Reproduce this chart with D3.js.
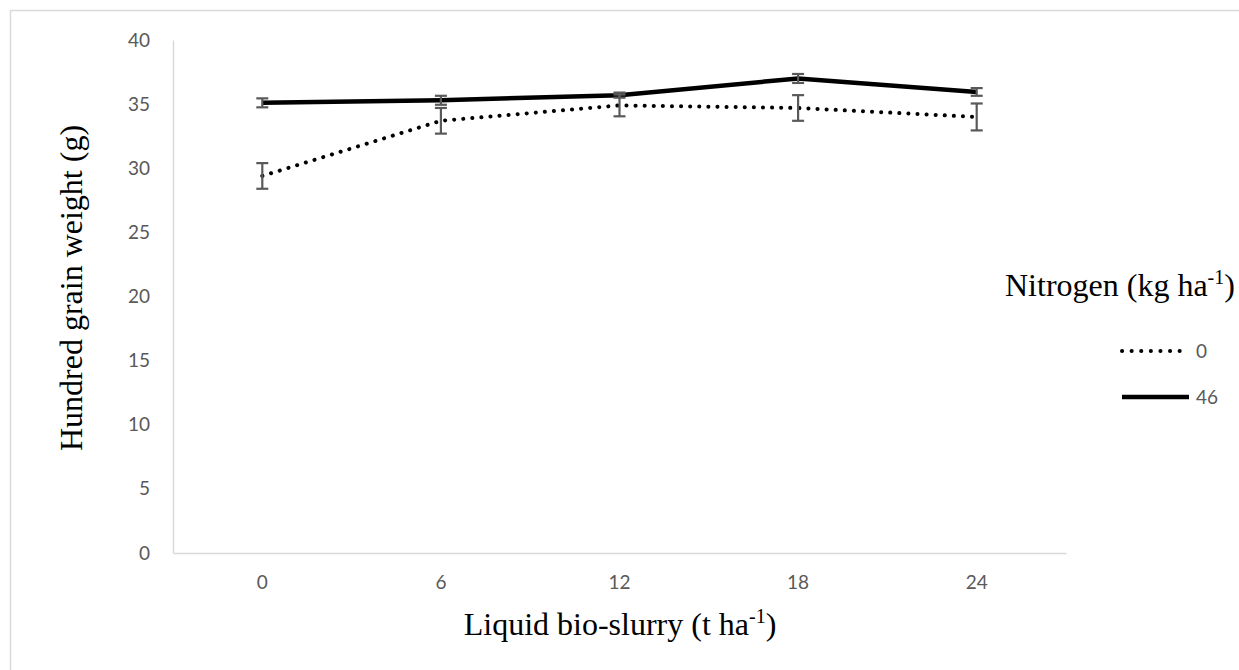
<!DOCTYPE html>
<html>
<head>
<meta charset="utf-8">
<script src="https://cdn.jsdelivr.net/npm/d3@7"></script>
<style>
  body { margin: 0; background: #fff; }
  svg { display: block; }
  .tick-font { font-family: Lato, "Open Sans", sans-serif; }
  .title-font { font-family: "Times New Roman", Times, "Liberation Serif", serif; }
</style>
</head>
<body>
<div id="chart"></div>
<script>
// data
const slurry = ["0", "6", "12", "18", "24"];
const n0 = [29.4, 33.7, 34.9, 34.7, 34.0];
const n0Err = [1.0, 1.0, 0.85, 1.0, 1.05];
const n46 = [35.1, 35.3, 35.7, 37.0, 35.95];
const n46Err = [0.35, 0.35, 0.2, 0.35, 0.3];
const yTicks = [0, 5, 10, 15, 20, 25, 30, 35, 40];
const seriesNames = ["0", "46"];

const W = 1239, H = 670;
const plot = { left: 173, right: 1066, top: 40, bottom: 553 };

const svg = d3.select("#chart").append("svg")
    .attr("width", W)
    .attr("height", H);

// outer frame
svg.append("rect")
    .attr("x", 10.5).attr("y", 10.5)
    .attr("width", W).attr("height", H)
    .attr("fill", "none")
    .attr("stroke", "#d9d9d9")
    .attr("stroke-width", 1.5);

const x = d3.scaleBand().domain(slurry).range([plot.left, plot.right]);
const y = d3.scaleLinear().domain([0, 40]).range([plot.bottom, plot.top]);
const cx = d => x(d) + x.bandwidth() / 2;

// y axis
const yAxis = svg.append("g")
    .attr("transform", `translate(${plot.left},0)`)
    .call(d3.axisLeft(y).tickValues(yTicks).tickSize(0).tickPadding(23));
yAxis.select(".domain").attr("stroke", "#d9d9d9").attr("stroke-width", 1.5);
yAxis.selectAll("text").attr("class", "tick-font")
    .attr("font-size", 19).attr("fill", "#595959");

// x axis
const xAxis = svg.append("g")
    .attr("transform", `translate(0,${plot.bottom})`)
    .call(d3.axisBottom(x).tickSize(0).tickPadding(23));
xAxis.select(".domain").attr("stroke", "#d9d9d9").attr("stroke-width", 1.5);
xAxis.selectAll("text").attr("class", "tick-font")
    .attr("font-size", 19).attr("fill", "#595959");
svg.selectAll("g").attr("font-family", null);

// lines
const line = d3.line().x((d, i) => cx(slurry[i])).y(d => y(d));

svg.append("path")
    .datum(n0)
    .attr("d", line)
    .attr("fill", "none")
    .attr("stroke", "#000")
    .attr("stroke-width", 4)
    .attr("stroke-linecap", "round")
    .attr("stroke-dasharray", "0.1 9");

svg.append("path")
    .datum(n46)
    .attr("d", line)
    .attr("fill", "none")
    .attr("stroke", "#000")
    .attr("stroke-width", 4.5);

// error bars
function errorBars(vals, errs) {
    const g = svg.append("g").attr("stroke", "#595959").attr("stroke-width", 2.2);
    vals.forEach((v, i) => {
        const px = cx(slurry[i]);
        const y1 = y(v + errs[i]), y2 = y(v - errs[i]);
        g.append("line").attr("x1", px).attr("x2", px).attr("y1", y1).attr("y2", y2);
        g.append("line").attr("x1", px - 6).attr("x2", px + 6).attr("y1", y1).attr("y2", y1);
        g.append("line").attr("x1", px - 6).attr("x2", px + 6).attr("y1", y2).attr("y2", y2);
    });
}
errorBars(n0, n0Err);
errorBars(n46, n46Err);

// axis titles
const xt = svg.append("text")
    .attr("class", "title-font")
    .attr("x", 620)
    .attr("y", 635)
    .attr("text-anchor", "middle")
    .attr("font-size", 32)
    .attr("fill", "#000");
xt.append("tspan").text("Liquid bio-slurry (t ha");
xt.append("tspan").attr("dy", -12).attr("font-size", 20).text("-1");
xt.append("tspan").attr("dy", 12).text(")");

svg.append("text")
    .attr("class", "title-font")
    .attr("transform", `translate(82,288) rotate(-90)`)
    .attr("text-anchor", "middle")
    .attr("font-size", 32)
    .attr("fill", "#000")
    .text("Hundred grain weight (g)");

// legend
const lt = svg.append("text")
    .attr("class", "title-font")
    .attr("x", 1005)
    .attr("y", 296)
    .attr("font-size", 32)
    .attr("fill", "#000");
lt.append("tspan").text("Nitrogen (kg ha");
lt.append("tspan").attr("dy", -12).attr("font-size", 20).text("-1");
lt.append("tspan").attr("dy", 12).text(")");

const legendY = d3.scalePoint().domain(seriesNames).range([351, 397]);
seriesNames.forEach((name, i) => {
    const ly = legendY(name);
    const l = svg.append("line")
        .attr("x1", 1122).attr("x2", 1189)
        .attr("y1", ly).attr("y2", ly)
        .attr("stroke", "#000");
    if (i === 0) {
        l.attr("stroke-width", 4).attr("stroke-linecap", "round").attr("stroke-dasharray", "0.1 9.5");
    } else {
        l.attr("stroke-width", 4.5);
    }
    svg.append("text")
        .attr("class", "tick-font")
        .attr("x", 1196)
        .attr("y", ly)
        .attr("dy", "0.35em")
        .attr("font-size", 19)
        .attr("fill", "#595959")
        .text(name);
});
</script>
</body>
</html>
